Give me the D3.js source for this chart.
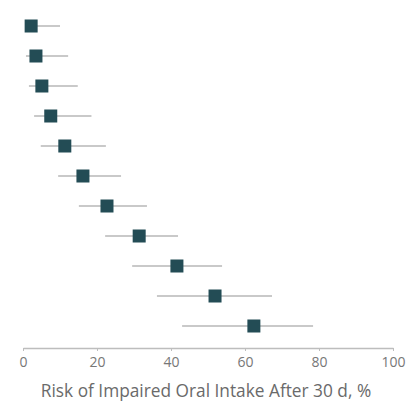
<!DOCTYPE html>
<html>
<head>
<meta charset="utf-8">
<script src="https://cdn.jsdelivr.net/npm/d3@7"></script>
<style>
  html, body { margin: 0; padding: 0; background: #fff; }
  svg { display: block; }
</style>
</head>
<body>
<div id="chart"></div>
<script>
// estimates, top row first
const rows = ["1", "2", "3", "4", "5", "6", "7", "8", "9", "10", "11"]
const risk = [2.2, 3.5, 5.1, 7.5, 11.3, 16.2, 22.7, 31.4, 41.6, 51.9, 62.4]
const lower = [0.6, 0.8, 1.6, 3.0, 4.8, 9.5, 15.1, 22.2, 29.5, 36.2, 43.0]
const upper = [10.0, 12.2, 14.8, 18.5, 22.4, 26.5, 33.5, 41.9, 53.8, 67.3, 78.4]
const xTicks = [0, 20, 40, 60, 80, 100]

const width = 410
const height = 405
const margin = { top: 11, right: 17, bottom: 57, left: 23 }
const boundedWidth = width - margin.left - margin.right
const boundedHeight = height - margin.top - margin.bottom

const data = rows.map((r, i) => ({ row: r, risk: risk[i], lo: lower[i], hi: upper[i] }))

const svg = d3.select("#chart")
  .append("svg")
    .attr("width", width)
    .attr("height", height)

const g = svg.append("g")
  .attr("transform", `translate(${margin.left},${margin.top})`)

const xScale = d3.scaleLinear()
  .domain([0, 100])
  .range([0, boundedWidth])

const yScale = d3.scalePoint()
  .domain(rows)
  .range([15, boundedHeight - 22])

// whiskers
g.append("g")
  .selectAll("line")
  .data(data)
  .join("line")
    .attr("x1", d => xScale(d.lo))
    .attr("x2", d => xScale(d.hi))
    .attr("y1", d => yScale(d.row))
    .attr("y2", d => yScale(d.row))
    .attr("stroke", "#c9c9c9")
    .attr("stroke-width", 2)

const sq = 13
g.append("g")
  .selectAll("rect")
  .data(data)
  .join("rect")
    .attr("x", d => xScale(d.risk) - sq / 2)
    .attr("y", d => yScale(d.row) - sq / 2)
    .attr("width", sq)
    .attr("height", sq)
    .attr("fill", "#234c55")

const xAxis = g.append("g")
  .attr("transform", `translate(0,${boundedHeight})`)
  .call(d3.axisBottom(xScale).tickValues(xTicks).tickSize(3).tickPadding(6).tickSizeOuter(0))

xAxis.select(".domain").attr("stroke", "#bdbdbd").attr("stroke-width", 1.5)
xAxis.selectAll(".tick line").attr("stroke", "#bdbdbd")
xAxis.selectAll(".tick text")
  .attr("fill", "#777")
  .style("font-family", "'Open Sans', sans-serif")
  .style("font-size", "14px")

g.append("text")
  .attr("x", boundedWidth / 2 - 2)
  .attr("y", boundedHeight + 49)
  .attr("text-anchor", "middle")
  .attr("fill", "#6a6a6a")
  .style("font-family", "'Open Sans', sans-serif")
  .style("font-size", "17.3px")
  .text("Risk of Impaired Oral Intake After 30 d, %")
</script>
</body>
</html>
